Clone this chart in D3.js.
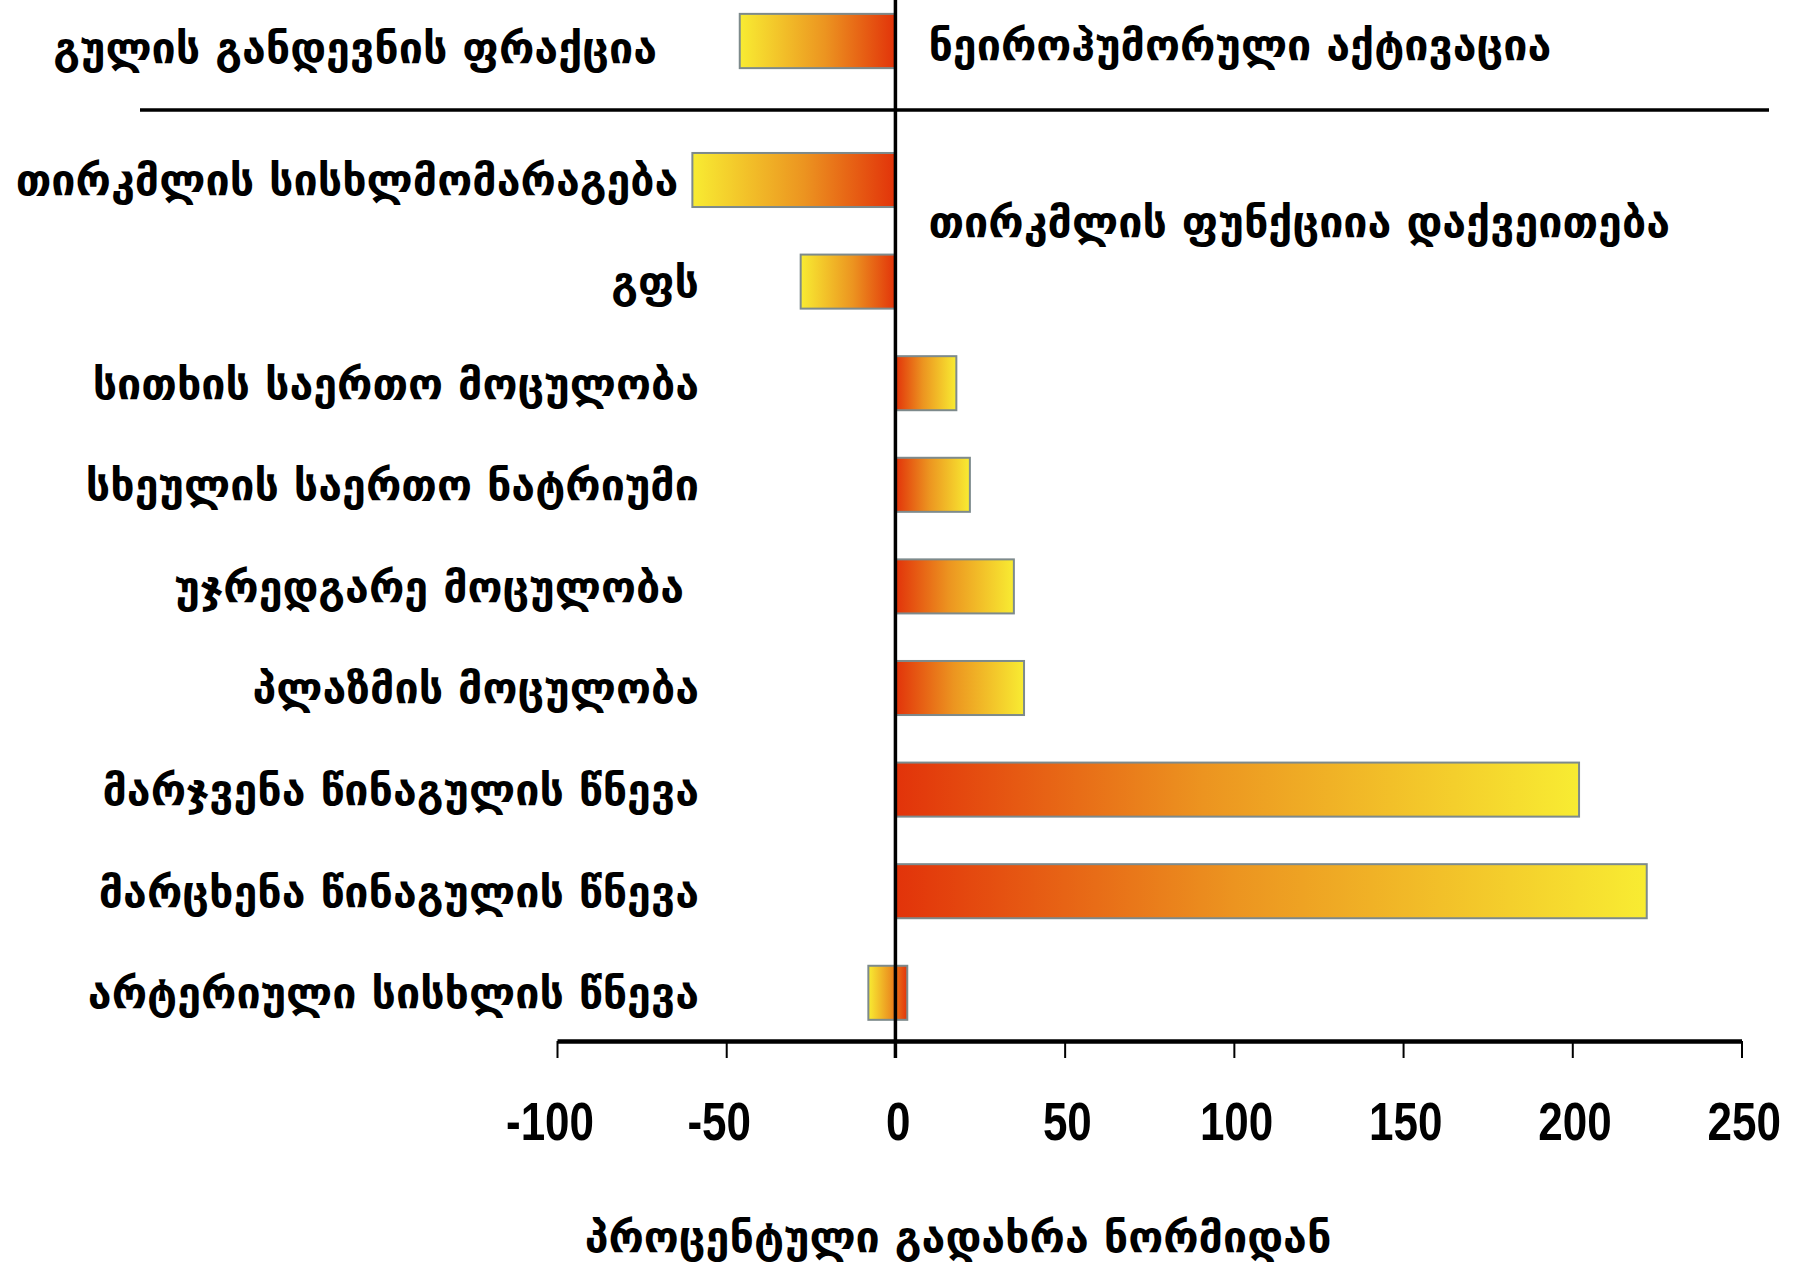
<!DOCTYPE html>
<html>
<head>
<meta charset="utf-8">
<script src="https://cdn.jsdelivr.net/npm/d3@7"></script>
<style>
  html, body { margin: 0; padding: 0; background: #ffffff; }
  svg { display: block; }
  .label { font-family: "DejaVu Sans", sans-serif; font-weight: bold; fill: #000; white-space: pre; font-size: 43px; }
  .tick text { font-family: "Liberation Sans", Arial, sans-serif; font-weight: bold; fill: #000; }
</style>
</head>
<body>
<svg id="chart" width="1793" height="1270"></svg>
<script>
// Panel above the divider: cardiac function
const topCategories = ["გულის განდევნის ფრაქცია"];
const topFrom = [0];
const topTo = [-46];

// Panel below the divider: renal and volume changes (percent change from normal)
const categories = [
  "თირკმლის სისხლმომარაგება",
  "გფს",
  "სითხის საერთო მოცულობა",
  "სხეულის საერთო ნატრიუმი",
  "უჯრედგარე მოცულობა ",
  "პლაზმის მოცულობა",
  "მარჯვენა წინაგულის წნევა",
  "მარცხენა წინაგულის წნევა",
  "არტერიული სისხლის წნევა"
];
const changeFrom = [0, 0, 0, 0, 0, 0, 0, 0, -8];
const changeTo = [-60, -28, 18, 22, 35, 38, 202, 222, 3.5];

const xTicks = [-100, -50, 0, 50, 100, 150, 200, 250];
const xTickLabels = ["-100", "-50", "0", "50", "100", "150", "200", "250"];

const sectionTop = "ნეიროჰუმორული აქტივაცია";
const sectionRenal = "თირკმლის ფუნქციია დაქვეითება";
const xTitle = "პროცენტული გადახრა ნორმიდან";

const svg = d3.select("#chart");

const x = d3.scaleLinear().domain([-100, 250]).range([557, 1741.5]);
const axisY = 1041;

const y = d3.scaleBand().domain(categories).range([129.2, 1043.6])
  .paddingInner(0.468).paddingOuter(0.234);
const yTop = d3.scaleBand().domain(topCategories).range([-10, 92])
  .paddingInner(0.468).paddingOuter(0.234);

// Gradients: red at the zero end, yellow at the tip
const defs = svg.append("defs");
function grad(id, x1, x2) {
  const g = defs.append("linearGradient").attr("id", id)
    .attr("x1", x1).attr("x2", x2).attr("y1", 0).attr("y2", 0);
  g.append("stop").attr("offset", "0%").attr("stop-color", "#e2330a");
  g.append("stop").attr("offset", "45%").attr("stop-color", "#ec9420");
  g.append("stop").attr("offset", "100%").attr("stop-color", "#f8ec32");
}
grad("gradPos", 0, 1);
grad("gradNeg", 1, 0);

function drawBars(rows, yScale) {
  svg.append("g").selectAll("rect").data(rows).join("rect")
    .attr("x", d => x(Math.min(d.from, d.to)))
    .attr("width", d => Math.abs(x(d.to) - x(d.from)))
    .attr("y", d => yScale(d.name))
    .attr("height", yScale.bandwidth())
    .attr("fill", d => d.from >= 0 && d.to >= 0 ? "url(#gradPos)" : "url(#gradNeg)")
    .attr("stroke", "#7d8a8c")
    .attr("stroke-width", 2);
}

const topData = topCategories.map((name, i) => ({ name, from: topFrom[i], to: topTo[i] }));
const data = categories.map((name, i) => ({ name, from: changeFrom[i], to: changeTo[i] }));

drawBars(topData, yTop);
drawBars(data, y);

// Category labels, right-aligned left of the zero line (or of the bar, when it reaches further)
svg.append("g").selectAll("text").data(data).join("text")
  .attr("class", "label")
  .attr("x", d => Math.min(699, x(Math.min(d.from, d.to)) - 14))
  .attr("y", d => y(d.name) + y.bandwidth() / 2)
  .attr("dy", "0.36em")
  .attr("text-anchor", "end")
  .text(d => d.name);

svg.append("text").attr("class", "label")
  .attr("x", 657).attr("y", yTop(topCategories[0]) + yTop.bandwidth() / 2)
  .attr("dy", "0.52em").attr("text-anchor", "end")
  .text(topCategories[0]);

svg.append("text").attr("class", "label")
  .attr("x", x(0) + 33).attr("y", 60)
  .text(sectionTop);

svg.append("text").attr("class", "label")
  .attr("x", x(0) + 33).attr("y", 237)
  .text(sectionRenal);

svg.append("text").attr("class", "label")
  .attr("x", 958).attr("y", 1252).attr("text-anchor", "middle")
  .text(xTitle);

// Divider between the two panels
svg.append("line")
  .attr("x1", 140).attr("x2", 1769).attr("y1", 110).attr("y2", 110)
  .attr("stroke", "#000").attr("stroke-width", 3.5);

// Bottom axis
const axis = d3.axisBottom(x).tickValues(xTicks)
  .tickFormat((d, i) => xTickLabels[i]).tickSize(17).tickSizeOuter(0);
const gAxis = svg.append("g").attr("transform", `translate(0,${axisY})`).call(axis);
gAxis.select(".domain").attr("stroke", "#000").attr("stroke-width", 4.5);
gAxis.selectAll(".tick line").attr("stroke", "#000").attr("stroke-width", 2);
gAxis.selectAll(".tick text")
  .attr("y", 99).attr("dy", 0)
  .attr("dx", d => d < 0 ? "-0.17em" : "0.05em")
  .attr("transform", "scale(0.83,1)")
  .style("font-size", "53px");

// Zero line
svg.append("line")
  .attr("x1", x(0)).attr("x2", x(0)).attr("y1", 0).attr("y2", axisY + 17)
  .attr("stroke", "#000").attr("stroke-width", 3.5);
</script>
</body>
</html>
